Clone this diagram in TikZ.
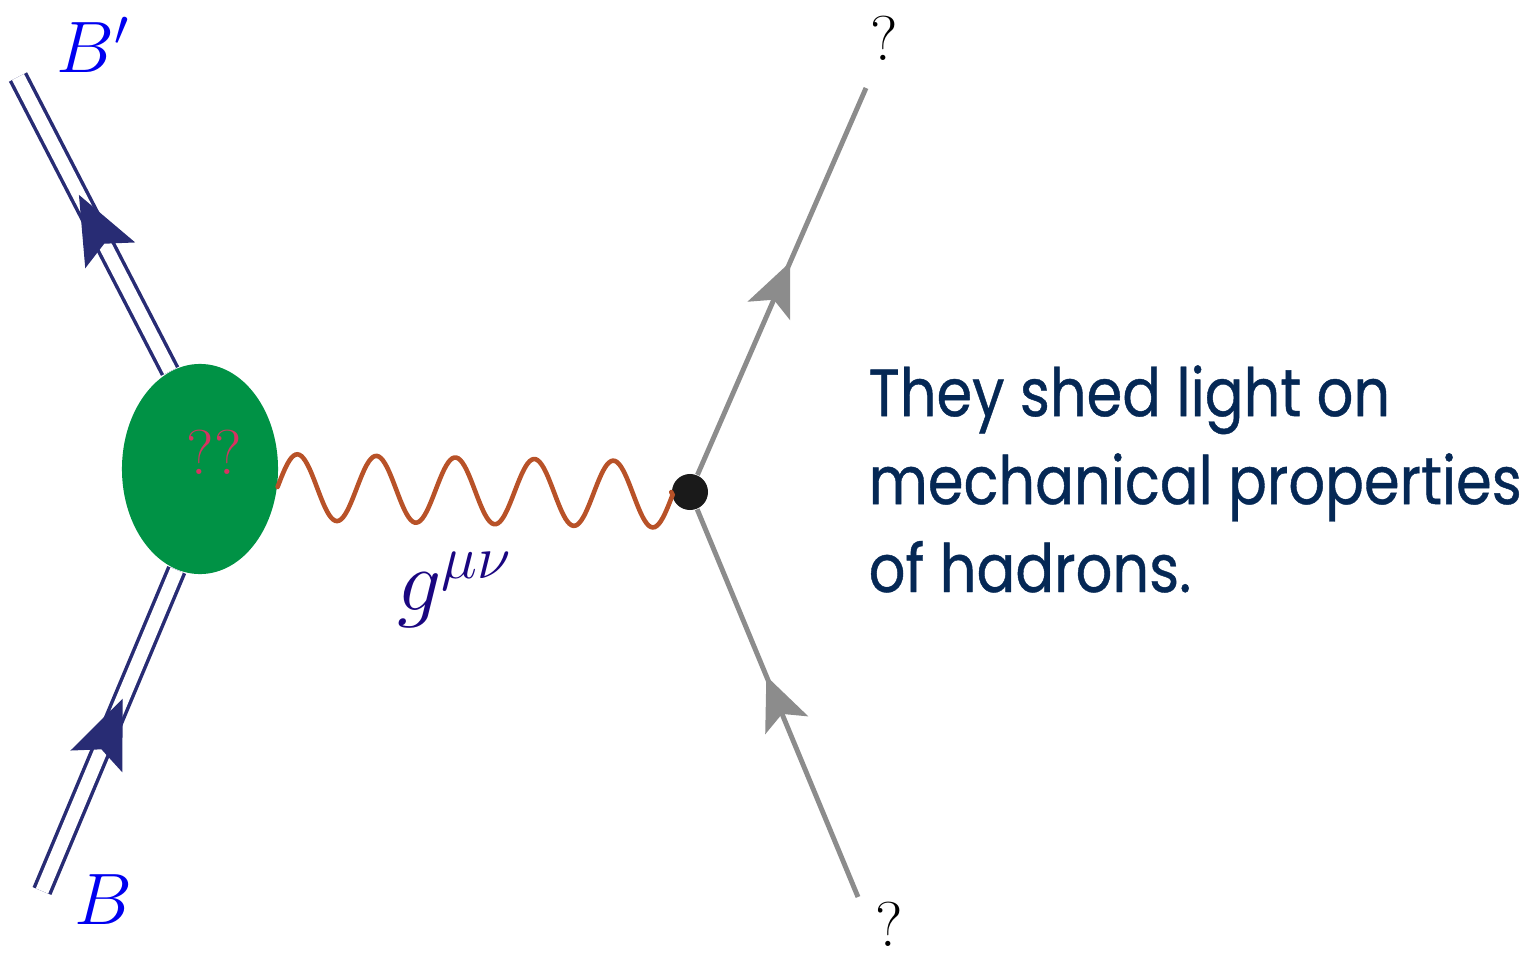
\documentclass[tikz,border=0pt]{standalone}
\usepackage{fontspec}
\usetikzlibrary{shapes.geometric,decorations.markings,arrows.meta}
\newfontfamily\notefont[FakeStretch=0.86,FakeBold=0.6]{Poppins}
\definecolor{hadronblue}{RGB}{40,44,116}
\definecolor{blobgreen}{RGB}{0,146,69}
\definecolor{wavebrown}{RGB}{184,82,40}
\definecolor{probegray}{RGB}{140,140,140}
\definecolor{dotblack}{RGB}{26,26,26}
\definecolor{labelblue}{RGB}{0,0,240}
\definecolor{metricblue}{RGB}{26,6,128}
\definecolor{askred}{RGB}{214,51,97}
\definecolor{noteblue}{RGB}{5,40,85}
\begin{document}
\begin{tikzpicture}[x=.01cm,y=-.01cm,
  every node/.style={inner sep=0pt},
  hadron/.style={draw=hadronblue,line width=1pt,double=white,double distance=3.8pt},
  hadronarrow/.style={decorate,decoration={markings,
    mark=at position #1 with {\arrow[hadronblue]{Stealth[length=.68cm,width=.56cm,inset=.13cm]}}}},
  probe/.style={draw=probegray,line width=1.4pt},
  probearrow/.style={decorate,decoration={markings,
    mark=at position #1 with {\arrow[probegray]{Stealth[length=.53cm,width=.46cm,inset=.12cm]}}}},
  graviton/.style={draw=wavebrown,line width=1.3pt,line cap=round}]
\useasboundingbox (0,0) rectangle (1526,957);
\node[ellipse,fill=blobgreen,minimum width=1.56cm,minimum height=2.1cm] (blob) at (200,469) {};
\node[circle,fill=dotblack,minimum size=.36cm] (vtx) at (690,492) {};
\coordinate (bptail) at (18,77);
\coordinate (btail) at (42,891);
\coordinate (qtop) at (866,88);
\coordinate (qbot) at (858,897);
\coordinate (wavein) at (blob.-13);
\node[text=labelblue,font=\fontsize{20}{24}\selectfont] (bplabel) at (93,45) {$B'$};
\node[text=labelblue,font=\fontsize{20}{24}\selectfont] (blabel) at (103,900) {$B$};
\node[text=askred,font=\fontsize{18}{22}\selectfont] (ask) at (214,452) {??};
\node[text=metricblue,font=\fontsize{26}{30}\selectfont] (metric) at (455,590) {$g^{\mu\nu}$};
\node[font=\fontsize{18}{22}\selectfont] (qtoplabel) at (884,38) {?};
\node[font=\fontsize{18}{22}\selectfont] (qbotlabel) at (889,924) {?};
\node[text=noteblue,font=\notefont\fontsize{19}{25}\selectfont,align=left,anchor=base west] (note) at (868,592)
  {They shed light on\\mechanical properties\\of hadrons.};
% hadron legs
\draw[hadron] (blob.107) -- (bptail);
\draw[hadron] (btail) -- (blob.-103);
\path[hadronarrow=.6] (blob.107) -- (bptail);
\path[hadronarrow=.6] (btail) -- (blob.-103);
% graviton, five periods from the blob to the vertex
\draw[graviton,shift={(wavein)}] plot[domain=0:395,samples=200,smooth]
  (\x,{.02*\x-33*sin(4.557*\x)}) -- (vtx.west);
% probe legs
\draw[probe,postaction={probearrow=.55}] (vtx) -- (qtop);
\draw[probe,postaction={probearrow=.57}] (qbot) -- (vtx);
\end{tikzpicture}
\end{document}
